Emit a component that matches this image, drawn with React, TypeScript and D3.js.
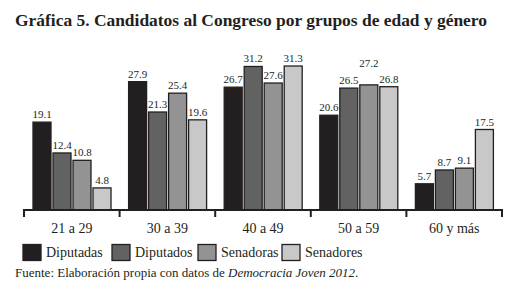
import React from "react";
import * as d3 from "d3";

const categories = ["21 a 29", "30 a 39", "40 a 49", "50 a 59", "60 y más"];
const seriesNames = ["Diputadas", "Diputados", "Senadoras", "Senadores"];
const diputadas = [19.1, 27.9, 26.7, 20.6, 5.7];
const diputados = [12.4, 21.3, 31.2, 26.5, 8.7];
const senadoras = [10.8, 25.4, 27.6, 27.2, 9.1];
const senadores = [4.8, 19.6, 31.3, 26.8, 17.5];
const seriesValues = [diputadas, diputados, senadoras, senadores];
const colors = ["#231f20", "#626262", "#939393", "#c8c8c8"];

const W = 521;
const H = 294;
const FONT = "'Liberation Serif', 'DejaVu Serif', serif";

export default function App() {
  const x0 = d3.scaleBand<string>().domain(categories).range([24, 502]).padding(0);
  const x1 = d3
    .scaleBand<string>()
    .domain(seriesNames)
    .range([9, x0.bandwidth() - 8.6])
    .paddingInner(0.1)
    .paddingOuter(0);
  const y = d3.scaleLinear().domain([0, 35]).range([210, 210 - 35 * 4.6]);

  const tickXs = [...categories.map((c) => x0(c) as number), 502];

  const legendX = [23, 112, 198, 282];

  return (
    <svg width={W} height={H} style={{ position: "absolute", left: 0, top: 0, background: "#fff" }}>
      <text
        x={15}
        y={26}
        fontFamily={FONT}
        fontWeight="bold"
        fontSize={17}
        fill="#231f20"
        textLength={472}
        lengthAdjust="spacingAndGlyphs"
      >
        Gráfica 5. Candidatos al Congreso por grupos de edad y género
      </text>

      {categories.map((c, ci) => (
        <g key={c} transform={`translate(${x0(c)},0)`}>
          {seriesNames.map((s, si) => {
            const v = seriesValues[si][ci];
            const bx = x1(s) as number;
            const bw = x1.bandwidth();
            const top = y(v);
            const raise = ci === 3 && si === 2 ? 14 : 0;
            return (
              <g key={s}>
                <rect
                  x={bx}
                  y={top}
                  width={bw}
                  height={y(0) - top}
                  fill={colors[si]}
                  stroke="#231f20"
                  strokeWidth={1.3}
                />
                <text
                  x={bx + bw / 2}
                  y={top - 4 - raise}
                  textAnchor="middle"
                  fontFamily={FONT}
                  fontSize={11}
                  fill="#231f20"
                >
                  {v.toFixed(1)}
                </text>
              </g>
            );
          })}
          <text
            x={x0.bandwidth() / 2}
            y={233}
            textAnchor="middle"
            fontFamily={FONT}
            fontSize={14}
            fill="#231f20"
          >
            {c}
          </text>
        </g>
      ))}

      <line x1={24} x2={502} y1={210} y2={210} stroke="#231f20" strokeWidth={2} />
      {tickXs.map((tx, i) => (
        <line key={i} x1={tx} x2={tx} y1={209} y2={217} stroke="#231f20" strokeWidth={2} />
      ))}

      {seriesNames.map((s, i) => (
        <g key={s}>
          <rect
            x={legendX[i]}
            y={244.5}
            width={18}
            height={16}
            fill={colors[i]}
            stroke="#231f20"
            strokeWidth={1.3}
          />
          <text x={legendX[i] + 23} y={257} fontFamily={FONT} fontSize={14} fill="#231f20">
            {s}
          </text>
        </g>
      ))}

      <text x={15} y={277} fontFamily={FONT} fontSize={13} fill="#231f20">
        Fuente: Elaboración propia con datos de <tspan fontStyle="italic">Democracia Joven 2012</tspan>.
      </text>
    </svg>
  );
}
